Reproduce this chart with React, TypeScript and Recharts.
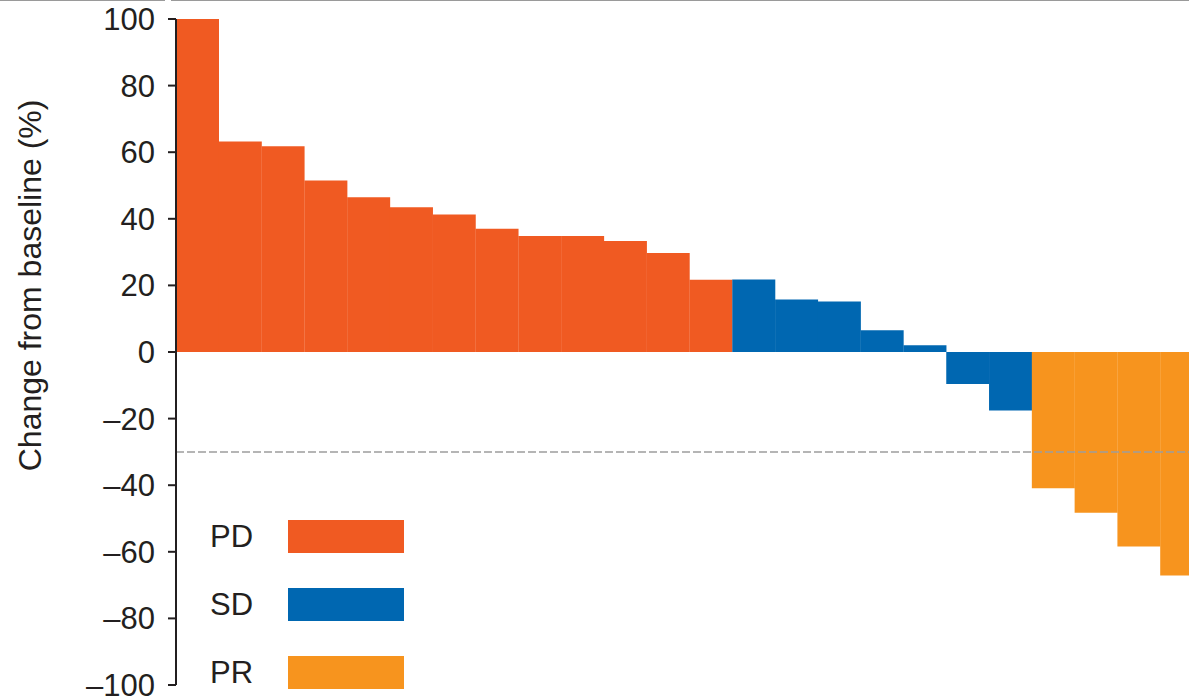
import { BarChart, Bar, Cell, XAxis, YAxis, ReferenceLine } from "recharts"

// ─── Data ────────────────────────────────────────────────────────────────────
const patients = [
  "P01", "P02", "P03", "P04", "P05", "P06", "P07", "P08", "P09", "P10", "P11", "P12",
  "P13", "P14", "P15", "P16", "P17", "P18", "P19", "P20", "P21", "P22", "P23", "P24",
]
const changes = [
  100, 63.2, 61.8, 51.5, 46.5, 43.5, 41.3, 37.0, 34.8, 34.8, 33.3, 29.7,
  21.7, 21.8, 15.8, 15.2, 6.5, 2.0, -9.6, -17.6, -40.9, -48.3, -58.4, -67.1,
]
const responses = [
  "PD", "PD", "PD", "PD", "PD", "PD", "PD", "PD", "PD", "PD", "PD", "PD",
  "PD", "SD", "SD", "SD", "SD", "SD", "SD", "SD", "PR", "PR", "PR", "PR",
]
const yTicks = [100, 80, 60, 40, 20, 0, -20, -40, -60, -80, -100]
const legendItems = ["PD", "SD", "PR"]
const threshold = -30

const COLORS: Record<string, string> = {
  PD: "#F05A22",
  SD: "#0067B1",
  PR: "#F7941E",
}

const data = patients.map((p, i) => ({ patient: p, change: changes[i], response: responses[i] }))

const FONT = "'Liberation Sans', Arial, Helvetica, sans-serif"
const INK = "#231F20"

function YLabel({ viewBox }: any) {
  const x = viewBox.x + 41
  const y = viewBox.y + viewBox.height * 0.4
  return (
    <text
      x={x}
      y={y}
      transform={`rotate(-90 ${x} ${y})`}
      textAnchor="middle"
      fontSize={32}
      fontFamily={FONT}
      fill={INK}
    >
      Change from baseline (%)
    </text>
  )
}

export default function App() {
  return (
    <div
      style={{
        position: "absolute",
        left: 0,
        top: 0,
        width: 1189,
        height: 697,
        overflow: "hidden",
        background: "#fff",
        fontFamily: FONT,
      }}
    >
      {/* thin top rule */}
      <div style={{ position: "absolute", left: 0, top: 0, width: 165, height: 1, background: "#9a9a9a" }} />
      <div style={{ position: "absolute", left: 171, top: 0, width: 1018, height: 1, background: "#9a9a9a" }} />

      <BarChart
        width={1206}
        height={697}
        data={data}
        margin={{ top: 19, right: 3, left: 0, bottom: 12 }}
        barCategoryGap={0}
        barGap={0}
      >
        <XAxis dataKey="patient" hide />
        <YAxis
          width={176}
          domain={[-100, 100]}
          ticks={yTicks}
          interval={0}
          allowDataOverflow
          tickFormatter={(v: number) => (v < 0 ? `\u2013${Math.abs(v)}` : `${v}`)}
          tick={{ fill: INK, fontSize: 31, fontFamily: FONT }}
          tickSize={8}
          tickMargin={13}
          axisLine={{ stroke: "#231F20", strokeWidth: 2 }}
          tickLine={{ stroke: "#231F20", strokeWidth: 2 }}
          label={<YLabel />}
        />
        <Bar dataKey="change" isAnimationActive={false}>
          {data.map((d) => (
            <Cell key={d.patient} fill={COLORS[d.response]} />
          ))}
        </Bar>
        <ReferenceLine y={threshold} stroke="#9d9d9d" strokeWidth={1.5} strokeDasharray="8 3" />
      </BarChart>

      {/* legend */}
      {legendItems.map((k, i) => (
        <div
          key={k}
          style={{
            position: "absolute",
            left: 210,
            top: 520 + i * 68,
            height: 33,
            display: "flex",
            alignItems: "center",
          }}
        >
          <span style={{ width: 78, fontSize: 31, color: INK, lineHeight: "33px" }}>{k}</span>
          <span style={{ width: 116, height: 33, background: COLORS[k], display: "inline-block" }} />
        </div>
      ))}
    </div>
  )
}
